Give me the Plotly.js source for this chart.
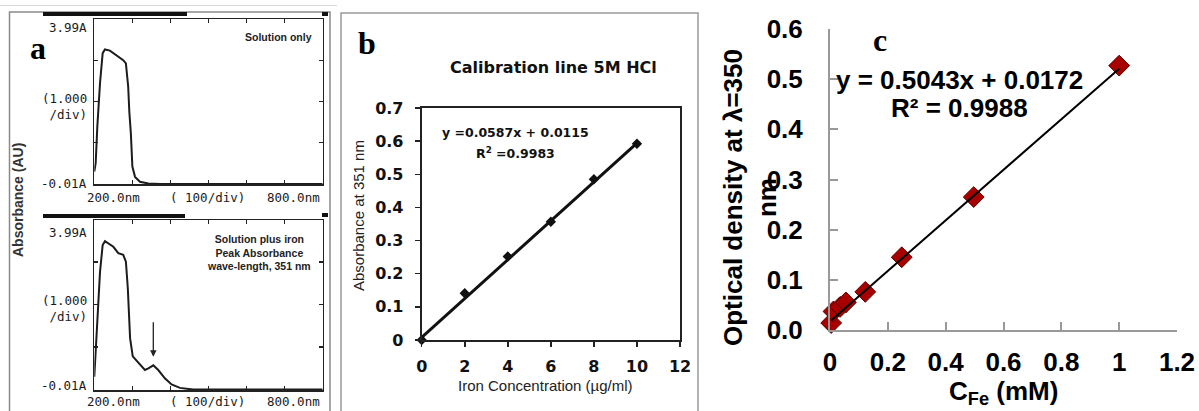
<!DOCTYPE html>
<html>
<head>
<meta charset="utf-8">
<script src="https://cdn.plot.ly/plotly-3.0.1.min.js"></script>
<style>html,body{margin:0;padding:0;background:#fff;}#chart{width:1199px;height:411px;}</style>
</head>
<body>
<div id="chart"></div>
<script>
// ---------- Panel a: UV-Vis spectra ----------
var specNm1  = [200, 203.6, 208, 215, 222, 228, 241, 259, 276, 283, 286, 289, 292, 296, 300, 307, 320, 342, 373, 450, 550, 650, 700, 760, 800];
var specAbs1 = [0.30, 0.50, 1.40, 2.44, 3.17, 3.26, 3.23, 3.12, 3.00, 2.92, 2.65, 2.36, 1.75, 1.23, 0.42, 0.17, 0.05, 0.01, 0.0, 0.0, 0.0, 0.0, 0.0, 0.0, 0.0];
var specNm2  = [200, 202, 204.5, 215, 222, 228, 250, 263, 276, 283, 288, 294, 301, 316, 333, 342, 355, 368, 386, 403, 425, 460, 550, 700, 800];
var specAbs2 = [0.30, 0.66, 0.81, 2.77, 3.40, 3.49, 3.36, 3.21, 3.17, 3.01, 2.39, 1.21, 0.78, 0.62, 0.46, 0.50, 0.57, 0.46, 0.26, 0.12, 0.04, 0.0, 0.0, 0.0, 0.0];
var aYLabels = ['3.99A', '(1.000<br>/div)', '-0.01A'];
var aXLabels = ['200.0nm', '( 100/div)', '800.0nm'];
var aNotes   = ['Solution only', 'Solution plus iron<br>Peak Absorbance<br>wave-length, 351 nm'];
var peakNm = 355, peakAbs = 0.77;

// ---------- Panel b: calibration line 5M HCl ----------
var concB = [0, 2, 4, 6, 8, 10];
var absB  = [0.0, 0.141, 0.252, 0.357, 0.485, 0.592];
var trendBx = [0, 10];
var trendBy = [0.008, 0.594];
var eqB = 'y =0.0587x + 0.0115';
var r2B = 'R<sup>2</sup> =0.9983';

// ---------- Panel c: optical density vs C_Fe ----------
var concC = [0.004, 0.012, 0.035, 0.055, 0.122, 0.248, 0.497, 1.0];
var odC   = [0.014, 0.037, 0.046, 0.055, 0.076, 0.145, 0.265, 0.527];
var trendCx = [0.004, 1.0];
var trendCy = [0.019, 0.521];
var eqC = 'y = 0.5043x + 0.0172';
var r2C = 'R² = 0.9988';

// ---------- layout helpers ----------
var W = 1199, H = 411;
function fx(px){ return px / W; }
function fy(py){ return 1 - py / H; }

var traces = [
  {x: specNm1, y: specAbs1, xaxis: 'x', yaxis: 'y', mode: 'lines', line: {color: '#1c1c1c', width: 2}, hoverinfo: 'skip'},
  {x: specNm2, y: specAbs2, xaxis: 'x2', yaxis: 'y2', mode: 'lines', line: {color: '#1c1c1c', width: 2}, hoverinfo: 'skip'},
  {x: concB, y: absB, xaxis: 'x3', yaxis: 'y3', mode: 'markers', cliponaxis: false,
   marker: {symbol: 'diamond', size: 8, color: '#111'}},
  {x: trendBx, y: trendBy, xaxis: 'x3', yaxis: 'y3', mode: 'lines', cliponaxis: false, line: {color: '#111', width: 3}},
  {x: concC, y: odC, xaxis: 'x4', yaxis: 'y4', mode: 'markers', cliponaxis: false,
   marker: {symbol: 'diamond', size: 16, color: '#a80000', line: {color: '#5e0000', width: 1}}},
  {x: trendCx, y: trendCy, xaxis: 'x4', yaxis: 'y4', mode: 'lines', cliponaxis: false, line: {color: '#000', width: 2}}
];

var specX = {range: [200, 800], tickvals: [300, 400, 500, 600, 700], ticks: 'inside', ticklen: 4, tickcolor: '#222', tickwidth: 1.2,
  showticklabels: false, showline: true, linecolor: '#222', linewidth: 1.5, mirror: 'allticks', zeroline: false, showgrid: false, fixedrange: true};
var specY = {range: [-0.01, 3.99], tickvals: [1, 2, 3], ticks: 'inside', ticklen: 4, tickcolor: '#222', tickwidth: 1.2,
  showticklabels: false, showline: true, linecolor: '#222', linewidth: 1.5, mirror: 'allticks', zeroline: false, showgrid: false, fixedrange: true};

function clone(o, extra){ var r = JSON.parse(JSON.stringify(o)); for (var k in extra) r[k] = extra[k]; return r; }

var fontB = {family: 'DejaVu Sans', size: 16, color: '#111', weight: 700};
var fontC = {family: 'Liberation Sans, Arial', size: 26, color: '#000', weight: 700};

var layout = {
  width: W, height: H, margin: {l: 0, r: 0, t: 0, b: 0},
  paper_bgcolor: '#fff', plot_bgcolor: 'rgba(0,0,0,0)', showlegend: false,
  xaxis:  clone(specX, {domain: [fx(94.3), fx(322.7)], anchor: 'y'}),
  yaxis:  clone(specY, {domain: [fy(184.3), fy(19.3)], anchor: 'x'}),
  xaxis2: clone(specX, {domain: [fx(94.3), fx(322.7)], anchor: 'y2'}),
  yaxis2: clone(specY, {domain: [fy(390), fy(220)], anchor: 'x2'}),
  xaxis3: {domain: [fx(421.7), fx(680)], anchor: 'y3', range: [0, 12], tickvals: [0, 2, 4, 6, 8, 10, 12],
    ticks: 'outside', ticklen: 5, tickcolor: '#222', tickwidth: 1.5, showline: true, linecolor: '#222', linewidth: 2, mirror: true,
    zeroline: false, showgrid: false, tickfont: fontB, ticklabelstandoff: 6, fixedrange: true},
  yaxis3: {domain: [fy(340), fy(108)], anchor: 'x3', range: [0, 0.7], tickvals: [0, 0.1, 0.2, 0.3, 0.4, 0.5, 0.6, 0.7],
    ticktext: ['0', '0.1', '0.2', '0.3', '0.4', '0.5', '0.6', '0.7'],
    ticks: 'outside', ticklen: 5, tickcolor: '#222', tickwidth: 1.5, showline: true, linecolor: '#222', linewidth: 2, mirror: true,
    zeroline: false, showgrid: false, tickfont: fontB, ticklabelstandoff: 8, fixedrange: true},
  xaxis4: {domain: [fx(830), fx(1177)], anchor: 'y4', range: [0, 1.2], tickvals: [0, 0.2, 0.4, 0.6, 0.8, 1, 1.2],
    ticktext: ['0', '0.2', '0.4', '0.6', '0.8', '1', '1.2'],
    ticks: 'inside', ticklen: 8, tickcolor: '#999', tickwidth: 2, showline: true, linecolor: '#999', linewidth: 2,
    zeroline: false, showgrid: false, tickfont: fontC, ticklabelstandoff: 8, fixedrange: true},
  yaxis4: {domain: [fy(330), fy(29)], anchor: 'x4', range: [0, 0.6], tickvals: [0, 0.1, 0.2, 0.3, 0.4, 0.5, 0.6],
    tickformat: '.1f',
    ticks: 'inside', ticklen: 8, tickcolor: '#999', tickwidth: 2, showline: true, linecolor: '#999', linewidth: 2,
    zeroline: false, showgrid: false, tickfont: fontC, ticklabelstandoff: 20, fixedrange: true},
  shapes: [
    {type: 'line', xref: 'paper', yref: 'paper', x0: fx(0), x1: fx(337), y0: fy(5.5), y1: fy(5.5), line: {color: '#d8d8d8', width: 1}},
    {type: 'rect', xref: 'paper', yref: 'paper', x0: fx(9.5), x1: fx(330), y0: fy(425), y1: fy(12), line: {color: '#8a8a8a', width: 1.5}},
    {type: 'rect', xref: 'paper', yref: 'paper', x0: fx(341), x1: fx(698), y0: fy(425), y1: fy(13), line: {color: '#9a9a9a', width: 1.5}},
    {type: 'rect', xref: 'paper', yref: 'paper', x0: fx(43), x1: fx(187), y0: fy(16), y1: fy(12), fillcolor: '#111', line: {width: 0}},
    {type: 'rect', xref: 'paper', yref: 'paper', x0: fx(43), x1: fx(185), y0: fy(218), y1: fy(214), fillcolor: '#111', line: {width: 0}},
    {type: 'rect', xref: 'paper', yref: 'paper', x0: fx(322), x1: fx(328), y0: fy(16), y1: fy(12), fillcolor: '#111', line: {width: 0}},
    {type: 'rect', xref: 'paper', yref: 'paper', x0: fx(322), x1: fx(328), y0: fy(217), y1: fy(213), fillcolor: '#111', line: {width: 0}}
  ],
  annotations: []
};

var A = layout.annotations;
function note(px, py, text, font, opts){
  var a = {xref: 'paper', yref: 'paper', x: fx(px), y: fy(py), text: text, showarrow: false, font: font,
           xanchor: 'center', yanchor: 'middle', borderpad: 0};
  if (opts) for (var k in opts) a[k] = opts[k];
  A.push(a);
}
var mono = {family: 'DejaVu Sans Mono', size: 12.5, color: '#1a1a1a'};
var serifBig = {family: 'Liberation Serif, Times New Roman', size: 32, color: '#000', weight: 700};
var smallBold = {family: 'Liberation Sans, Arial', size: 10.5, color: '#222', weight: 700};

// panel a
note(38, 48, 'a', serifBig);
note(278.5, 37, aNotes[0], smallBold);
note(259, 252, aNotes[1], smallBold, {align: 'center'});
[[27, 106.5, 183], [232, 308.5, 385]].forEach(function(ys){
  for (var i = 0; i < 3; i++) note(88, ys[i], aYLabels[i], mono, {xanchor: 'right', align: 'right'});
});
[197, 401].forEach(function(yy){
  note(86, yy, aXLabels[0], mono, {xanchor: 'left'});
  note(207, yy, aXLabels[1], mono);
  note(321, yy, aXLabels[2], mono, {xanchor: 'right'});
});
note(18, 200, 'Absorbance (AU)', {family: 'Liberation Sans, Arial', size: 14, color: '#333', weight: 700}, {textangle: -90});
A.push({xref: 'x2', yref: 'y2', x: peakNm, y: peakAbs, text: '', showarrow: true, ax: 0, ay: -36,
        arrowhead: 2, arrowsize: 1, arrowwidth: 1.3, arrowcolor: '#222', standoff: 0});

// panel b
note(367, 43, 'b', serifBig);
note(553, 67, 'Calibration line 5M HCl', {family: 'DejaVu Sans', size: 16, color: '#111', weight: 700});
note(515, 132, eqB, {family: 'DejaVu Sans', size: 12.5, color: '#111', weight: 700});
note(515, 153, r2B, {family: 'DejaVu Sans', size: 12.5, color: '#111', weight: 700});
note(358, 215, 'Absorbance at 351 nm', {family: 'Liberation Sans, Arial', size: 15, color: '#222'}, {textangle: -90});
note(545, 385, 'Iron Concentration (µg/ml)', {family: 'Liberation Sans, Arial', size: 15, color: '#222'});

// panel c
note(880, 40, 'c', serifBig);
note(959, 80, eqC, fontC);
note(959, 108, r2C, fontC);
note(750, 198, 'Optical density at λ=350<br>nm', fontC, {textangle: -90});
note(1003, 392, 'C<sub>Fe</sub> (mM)', fontC);

Plotly.newPlot('chart', traces, layout, {displayModeBar: false, staticPlot: true});
</script>
</body>
</html>
